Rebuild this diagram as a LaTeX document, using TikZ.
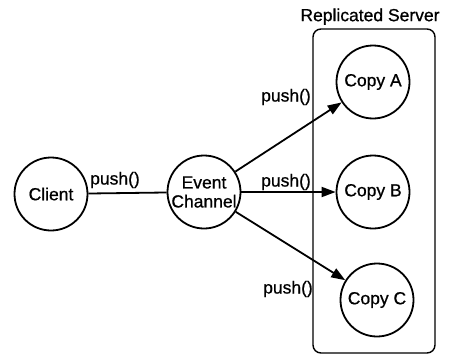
\documentclass[tikz,border=0pt]{standalone}
\usepackage{fontspec}
\setmainfont{Liberation Sans}
\newfontfamily\heavyfont[FakeBold=0.8]{Liberation Sans}
\usetikzlibrary{arrows.meta}
\begin{document}
\begin{tikzpicture}[x=1pt,y=-1pt,
  proc/.style={circle,draw,line width=1.8pt,minimum size=73pt,inner sep=0pt,font=\heavyfont\fontsize{17.5}{20}\selectfont,align=center},
  lbl/.style={font=\heavyfont\fontsize{17.5}{20}\selectfont,inner sep=0pt},
  conn/.style={line width=1.8pt},
  arr/.style={conn,-{Triangle[length=14pt,width=10pt]}}]
\useasboundingbox (0,0) rectangle (449,356);
\node[draw,line width=1.4pt,rounded corners=8pt,minimum width=122pt,minimum height=324pt,inner sep=0pt] (srv) at (374,191) {};
\node[lbl,anchor=south] (srvt) at (370,25) {Replicated Server};
\node[proc] (client) at (51,194) {Client};
\node[proc] (ec) at (204,192) {Event\\[-1pt]Channel};
\node[proc] (a) at (373,82) {Copy A};
\node[proc] (b) at (373,192) {Copy B};
\node[proc] (c) at (377,300) {Copy C};
\draw[conn] (client) -- (ec);
\draw[arr] (ec) -- (a);
\draw[arr] (ec) -- (b);
\draw[arr] (ec) -- (c);
\node[lbl,anchor=west] (l0) at (90,180) {push()};
\node[lbl,anchor=east] (l1) at (311,97) {push()};
\node[lbl,anchor=east] (l2) at (311,182) {push()};
\node[lbl,anchor=east] (l3) at (313,289) {push()};
\end{tikzpicture}
\end{document}
